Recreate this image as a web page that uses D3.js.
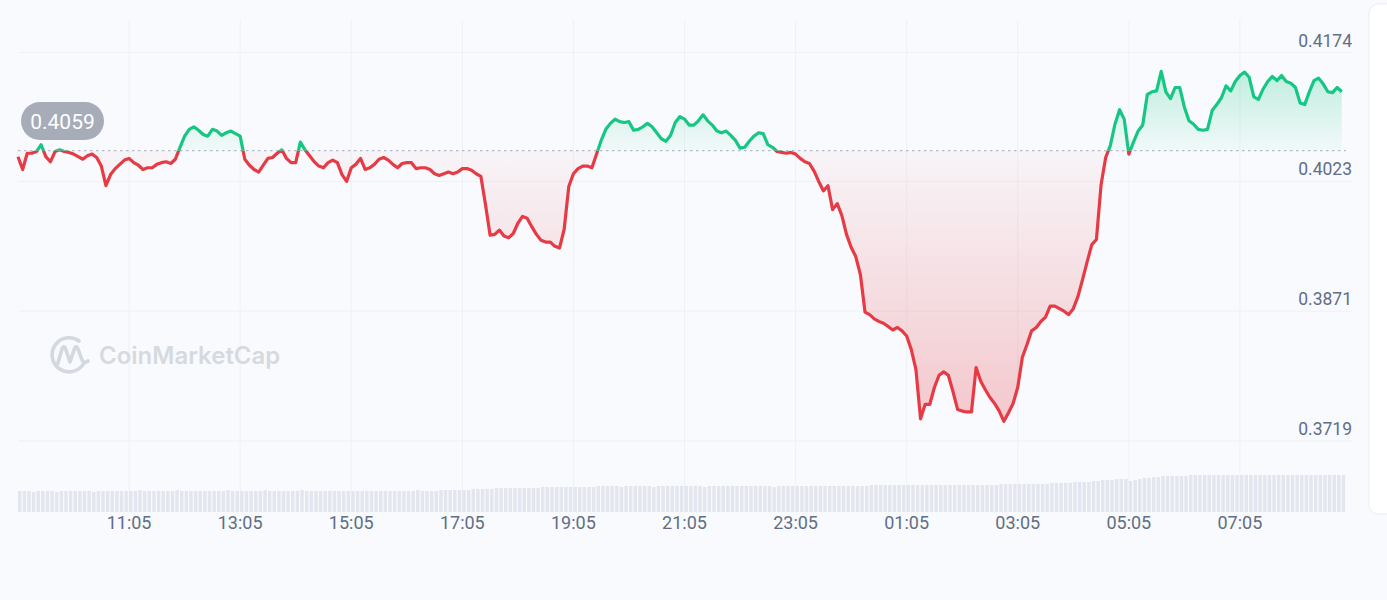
<!DOCTYPE html>
<html>
<head>
<meta charset="utf-8">
<script src="https://cdn.jsdelivr.net/npm/d3@7"></script>
<style>
  html, body { margin: 0; padding: 0; background: #f8fafd; }
  svg { display: block; font-family: Roboto, "Noto Sans", sans-serif; }
</style>
</head>
<body>
<svg id="chart" width="1387" height="600"></svg>
<script>
// ---- DATA ----
const startTime = "09:05";          // first 5-minute sample
const stepMinutes = 5;
const referencePrice = 0.4059;
const yTickValues = [0.4174, 0.4023, 0.3871, 0.3719];
const xTickLabels = ["11:05", "13:05", "15:05", "17:05", "19:05", "21:05", "23:05", "01:05", "03:05", "05:05", "07:05"];

const prices = [
  0.4052,0.4037,0.4056,0.4056,0.4058,0.4066,0.4052,0.4046,0.4058,0.4060,0.4058,0.4057,0.4055,0.4052,0.4049,0.4053,0.4055,0.4051,0.4041,0.4018,0.4031,0.4038,0.4043,0.4048,
  0.4050,0.4045,0.4042,0.4037,0.4039,0.4039,0.4043,0.4045,0.4046,0.4044,0.4049,0.4063,0.4076,0.4084,0.4087,0.4083,0.4078,0.4076,0.4084,0.4082,0.4077,0.4080,0.4082,0.4079,
  0.4076,0.4049,0.4042,0.4037,0.4034,0.4042,0.4050,0.4051,0.4056,0.4060,0.4050,0.4045,0.4045,0.4069,0.4060,0.4053,0.4046,0.4041,0.4039,0.4045,0.4048,0.4045,0.4031,0.4023,
  0.4039,0.4043,0.4050,0.4037,0.4039,0.4043,0.4049,0.4051,0.4048,0.4043,0.4039,0.4044,0.4045,0.4045,0.4038,0.4039,0.4039,0.4037,0.4032,0.4030,0.4032,0.4034,0.4032,0.4034,
  0.4038,0.4038,0.4036,0.4032,0.4029,0.3996,0.3960,0.3961,0.3966,0.3959,0.3957,0.3962,0.3974,0.3982,0.3980,0.3970,0.3961,0.3954,0.3952,0.3952,0.3947,0.3945,0.3967,0.4017,
  0.4032,0.4038,0.4041,0.4041,0.4039,0.4055,0.4071,0.4084,0.4091,0.4096,0.4093,0.4092,0.4093,0.4083,0.4084,0.4087,0.4091,0.4087,0.4080,0.4073,0.4070,0.4077,0.4092,0.4099,
  0.4096,0.4089,0.4089,0.4094,0.4101,0.4094,0.4089,0.4082,0.4080,0.4082,0.4077,0.4071,0.4062,0.4063,0.4070,0.4076,0.4080,0.4079,0.4066,0.4063,0.4058,0.4057,0.4056,0.4057,
  0.4055,0.4050,0.4046,0.4044,0.4035,0.4023,0.4012,0.4018,0.3990,0.3997,0.3983,0.3961,0.3946,0.3935,0.3914,0.3870,0.3867,0.3862,0.3859,0.3857,0.3853,0.3849,0.3852,0.3848,
  0.3842,0.3826,0.3803,0.3745,0.3762,0.3762,0.3782,0.3796,0.3800,0.3796,0.3777,0.3756,0.3754,0.3753,0.3753,0.3805,0.3789,0.3779,0.3770,0.3763,0.3754,0.3742,0.3752,0.3763,
  0.3782,0.3817,0.3832,0.3848,0.3852,0.3859,0.3864,0.3877,0.3877,0.3874,0.3871,0.3867,0.3874,0.3888,0.3908,0.3929,0.3949,0.3955,0.4019,0.4051,0.4065,0.4090,0.4107,0.4096,
  0.4055,0.4069,0.4082,0.4089,0.4125,0.4128,0.4129,0.4152,0.4128,0.4120,0.4133,0.4133,0.4110,0.4094,0.4090,0.4084,0.4083,0.4084,0.4106,0.4113,0.4121,0.4135,0.4129,0.4140,
  0.4147,0.4151,0.4145,0.4122,0.4119,0.4131,0.4140,0.4146,0.4141,0.4147,0.4140,0.4138,0.4133,0.4115,0.4113,0.4128,0.4141,0.4144,0.4137,0.4128,0.4127,0.4133,0.4128
];

const volumes = [
  21,21,21,20,21,21,21,21,20,21,21,21,21,21,21,21,20,21,21,21,21,21,21,21,
  21,21,22,21,21,21,21,21,21,21,22,21,21,21,21,21,21,21,21,21,21,22,21,21,
  21,21,21,21,21,22,21,21,21,21,21,21,21,22,21,21,21,21,21,21,21,21,21,21,
  21,21,21,21,21,21,21,21,21,21,21,21,21,21,22,21,21,21,21,22,22,22,22,22,
  22,22,23,23,23,23,23,24,24,24,24,24,24,24,24,24,24,25,25,25,25,25,25,25,
  25,25,25,25,25,26,26,26,26,26,25,26,26,26,26,26,26,25,26,26,26,26,26,26,
  26,26,26,26,25,26,26,26,26,26,26,26,26,26,26,26,26,26,26,25,26,26,26,26,
  26,26,26,26,26,26,26,26,26,26,26,26,26,26,26,26,27,27,27,27,27,27,27,27,
  27,27,27,27,27,27,27,27,27,27,27,27,27,27,27,27,27,27,27,27,28,28,28,28,
  28,28,28,28,28,28,28,29,29,29,29,29,30,30,30,30,31,31,32,32,32,33,33,33,
  31,32,33,34,34,35,35,36,36,36,36,36,36,37,37,37,37,37,37,37,37,37,37,37,
  37,37,37,37,37,37,37,37,37,37,37,37,37,37,37,37,37,37,37,37,37,37,37
];

// ---- BUILD ----
const svg = d3.select("#chart");
const W = 1387, H = 600;
const parse = d3.timeParse("%Y-%m-%d %H:%M");
const t0 = parse("2023-01-01 " + startTime);
const t1 = d3.timeHour.offset(t0, 24);
const times = prices.map((_, i) => d3.timeMinute.offset(t0, i * stepMinutes));
const data = prices.map((p, i) => ({ t: times[i], p, v: volumes[i] }));

const x = d3.scaleTime().domain([t0, t1]).range([18, 1351]);
const y = d3.scaleLinear().domain([0.3719, 0.4174]).range([441, 52.5]);
const yv = d3.scaleLinear().domain([0, 40]).range([512, 472]);

const GREEN = "#16c784", RED = "#e63a45";
const baseY = y(referencePrice);

// right-side panel edge
svg.append("rect").attr("x", 1369).attr("y", 4).attr("width", 40).attr("height", 510)
  .attr("rx", 9).attr("fill", "#ffffff").attr("stroke", "#e9edf2");

const defs = svg.append("defs");
const gG = defs.append("linearGradient").attr("id", "gGreen")
  .attr("gradientUnits", "userSpaceOnUse").attr("x1", 0).attr("x2", 0).attr("y1", 60).attr("y2", baseY);
gG.append("stop").attr("offset", 0).attr("stop-color", GREEN).attr("stop-opacity", 0.28);
gG.append("stop").attr("offset", 1).attr("stop-color", GREEN).attr("stop-opacity", 0.03);
const gR = defs.append("linearGradient").attr("id", "gRed")
  .attr("gradientUnits", "userSpaceOnUse").attr("x1", 0).attr("x2", 0).attr("y1", baseY).attr("y2", 430);
gR.append("stop").attr("offset", 0).attr("stop-color", RED).attr("stop-opacity", 0.03);
gR.append("stop").attr("offset", 1).attr("stop-color", RED).attr("stop-opacity", 0.27);

defs.append("clipPath").attr("id", "clipAbove").append("rect")
  .attr("x", 0).attr("y", 0).attr("width", W).attr("height", baseY);
defs.append("clipPath").attr("id", "clipBelow").append("rect")
  .attr("x", 0).attr("y", baseY).attr("width", W).attr("height", H - baseY);

// grid
const tickTimes = xTickLabels.map(lbl => {
  const [hh, mm] = lbl.split(":").map(Number);
  let d = new Date(t0); d.setHours(hh, mm, 0, 0);
  if (d < t0) d = d3.timeDay.offset(d, 1);
  return d;
});
svg.append("g").selectAll("line").data(tickTimes).join("line")
  .attr("x1", d => x(d)).attr("x2", d => x(d)).attr("y1", 20).attr("y2", 512)
  .attr("stroke", "#eef1f5").attr("stroke-width", 1);
svg.append("g").selectAll("line").data(yTickValues).join("line")
  .attr("x1", 18).attr("x2", 1352).attr("y1", d => y(d)).attr("y2", d => y(d))
  .attr("stroke", "#eef1f5").attr("stroke-width", 1);

// y labels
svg.append("g").selectAll("text").data(yTickValues).join("text")
  .attr("x", 1352).attr("y", d => y(d) - 6).attr("text-anchor", "end")
  .attr("font-size", 17.5).attr("fill", "#616e85").text(d => d.toFixed(4));

// x labels
svg.append("g").selectAll("text").data(tickTimes).join("text")
  .attr("x", d => x(d)).attr("y", 529).attr("text-anchor", "middle")
  .attr("font-size", 18).attr("fill", "#616e85").text((d, i) => xTickLabels[i]);

// watermark
const wm = svg.append("g").attr("fill", "none").attr("stroke", "#d4d8df");
wm.append("path").attr("stroke-width", 3.6).attr("stroke-linecap", "round")
  .attr("d", "M84,363 A17,17 0 1 1 79,341");
wm.append("path").attr("stroke-width", 3.6).attr("stroke-linecap", "round").attr("stroke-linejoin", "round")
  .attr("d", "M57,366 L62,349 Q64,344 66,350 L70,362 L74,350 Q76,344 78,349 L82,360 Q84,364 88,361");
svg.append("text").attr("x", 99).attr("y", 364).attr("font-family", "Inter, sans-serif")
  .attr("font-size", 24).attr("font-weight", 600)
  .attr("fill", "#d6dae0").text("CoinMarketCap");

// volume bars
const bw = (x(times[1]) - x(times[0]));
svg.append("g").selectAll("rect").data(data).join("rect")
  .attr("x", d => x(d.t)).attr("width", bw - 1.2)
  .attr("y", d => yv(d.v)).attr("height", d => yv(0) - yv(d.v))
  .attr("fill", "#e4e6ef");

// areas
const area = d3.area().x(d => x(d.t)).y0(baseY).y1(d => y(d.p));
svg.append("path").datum(data).attr("d", area).attr("fill", "url(#gGreen)").attr("clip-path", "url(#clipAbove)");
svg.append("path").datum(data).attr("d", area).attr("fill", "url(#gRed)").attr("clip-path", "url(#clipBelow)");

// reference dotted line
svg.append("line").attr("x1", 18).attr("x2", 1346).attr("y1", baseY).attr("y2", baseY)
  .attr("stroke", "#b4bccb").attr("stroke-width", 1.3).attr("stroke-dasharray", "2.5,3.5");

// price line
const line = d3.line().x(d => x(d.t)).y(d => y(d.p));
svg.append("path").datum(data).attr("d", line).attr("fill", "none").attr("stroke", GREEN)
  .attr("stroke-width", 3.2).attr("stroke-linejoin", "round").attr("clip-path", "url(#clipAbove)");
svg.append("path").datum(data).attr("d", line).attr("fill", "none").attr("stroke", RED)
  .attr("stroke-width", 3.2).attr("stroke-linejoin", "round").attr("clip-path", "url(#clipBelow)");

// reference price badge
const badge = svg.append("g");
badge.append("rect").attr("x", 21).attr("y", 102).attr("width", 83).attr("height", 38).attr("rx", 19)
  .attr("fill", "#a6acb8");
badge.append("text").attr("x", 62.5).attr("y", 128.5).attr("text-anchor", "middle")
  .attr("font-size", 21).attr("fill", "#ffffff").text(referencePrice.toFixed(4));
</script>
</body>
</html>
